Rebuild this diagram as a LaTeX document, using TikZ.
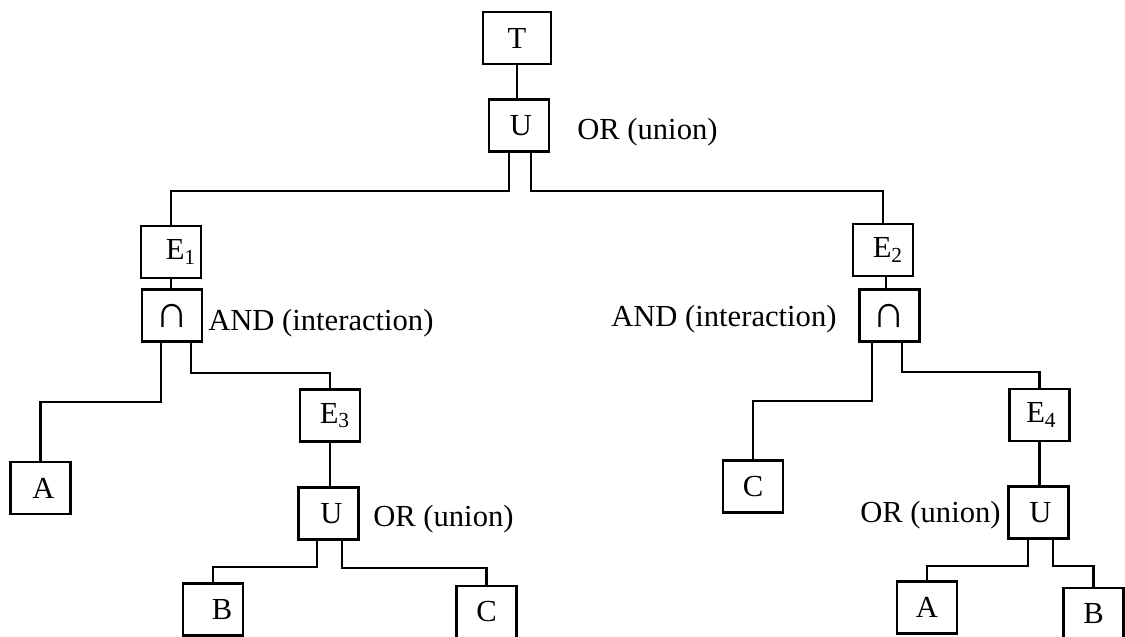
\documentclass[tikz,border=0pt]{standalone}
\usepackage{fontspec}
\setmainfont{Liberation Serif}
\newcommand{\fs}{\fontsize{15.3}{18}\selectfont}
\newcommand{\bigcapsym}{{\fontsize{23}{23}\selectfont ∩}}
\begin{document}
\begin{tikzpicture}[x=0.5pt,y=-0.5pt, line width=1.3pt,
  box/.style={draw, line width=1.3pt, minimum width=30pt, minimum height=26pt, inner sep=0pt, font=\fs},
  sh/.style={execute at begin node={\hspace{#1}}},
  lbl/.style={inner sep=0pt, anchor=base west, font=\fs}]
\useasboundingbox (0,0) rectangle (1125,637);
% boxes
\node[box, minimum width=34pt] (T) at (517,38) {T};
\node[box, sh=2pt] (U) at (519,125.5) {U};
\node[box, sh=10pt] (E1) at (171,252) {E\textsubscript{1}};
\node[box] (N1) at (172,315.5) {\bigcapsym};
\node[box, sh=3pt] (A1) at (40.5,488) {A};
\node[box, sh=5pt] (E3) at (330,415.5) {E\textsubscript{3}};
\node[box, sh=3pt] (U3) at (328.5,513.5) {U};
\node[box, sh=9pt] (B1) at (213,609.5) {B};
\node[box] (C1) at (486.5,612) {C};
\node[box, sh=5pt] (E2) at (883,250) {E\textsubscript{2}};
\node[box] (N2) at (889.5,315.5) {\bigcapsym};
\node[box] (C2) at (753,486.5) {C};
\node[box, sh=2pt] (E4) at (1039.5,415) {E\textsubscript{4}};
\node[box, sh=2pt] (U4) at (1038.5,512.5) {U};
\node[box] (A2) at (927,607.5) {A};
\node[box] (B2) at (1093.5,614) {B};
% labels
\node[lbl] (l0) at (576,139) {OR (union)};
\node[lbl] (l1) at (207,330) {AND (interaction)};
\node[lbl] (l2) at (610,326) {AND (interaction)};
\node[lbl] (l3) at (372,526) {OR (union)};
\node[lbl] (l4) at (859,522) {OR (union)};
% branch start points
\coordinate (u0a) at ([xshift=-5pt]U.south);
\coordinate (u0b) at ([xshift=6pt]U.south);
\coordinate (n1a) at ([xshift=-5.5pt]N1.south);
\coordinate (n1b) at ([xshift=9.5pt]N1.south);
\coordinate (u3a) at ([xshift=-5.75pt]U3.south);
\coordinate (u3b) at ([xshift=6.75pt]U3.south);
\coordinate (n2a) at ([xshift=-8.75pt]N2.south);
\coordinate (n2b) at ([xshift=6.25pt]N2.south);
\coordinate (u4a) at ([xshift=-5.25pt]U4.south);
\coordinate (u4b) at ([xshift=7.25pt]U4.south);
% connectors
\draw (T.south) -- (T.south |- U.north);
\draw (u0a) -- (u0a |- 0,191) -| (E1.north);
\draw (u0b) -- (u0b |- 0,191) -| (E2.north);
\draw (E1.south) -- (E1.south |- N1.north);
\draw (n1a) -- (n1a |- 0,402) -| (A1.north);
\draw (n1b) -- (n1b |- 0,373) -| (E3.north);
\draw (E3.south) -- (E3.south |- U3.north);
\draw (u3a) -- (u3a |- 0,567) -| (B1.north);
\draw (u3b) -- (u3b |- 0,568) -| (C1.north);
\draw ([xshift=1.5pt]E2.south) -- ([xshift=1.5pt]E2.south |- N2.north);
\draw (n2a) -- (n2a |- 0,401) -| (C2.north);
\draw (n2b) -- (n2b |- 0,372) -| (E4.north);
\draw (E4.south) -- (E4.south |- U4.north);
\draw (u4a) -- (u4a |- 0,566) -| (A2.north);
\draw (u4b) -- (u4b |- 0,566) -| (B2.north);
\end{tikzpicture}
\end{document}
